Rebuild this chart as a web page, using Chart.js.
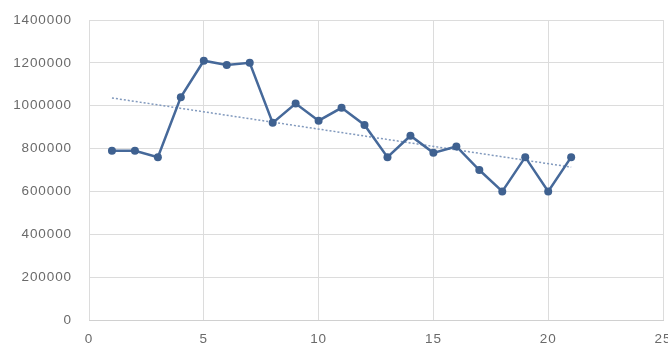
<!DOCTYPE html>
<html>
<head>
<meta charset="utf-8">
<script src="https://cdn.jsdelivr.net/npm/chart.js@4/dist/chart.umd.min.js"></script>
<style>
  html, body { margin: 0; padding: 0; background: #ffffff; }
  #wrap { width: 668px; height: 349px; position: relative; }
</style>
</head>
<body>
<div id="wrap"><canvas id="c" width="668" height="349"></canvas></div>
<script>
// Period index and the measured value for each period
const periods = [1, 2, 3, 4, 5, 6, 7, 8, 9, 10, 11, 12, 13, 14, 15, 16, 17, 18, 19, 20, 21];
const values = [790000, 790000, 760000, 1040000, 1210000, 1190000, 1200000, 920000, 1010000, 930000,
                990000, 910000, 760000, 860000, 780000, 810000, 700000, 600000, 760000, 600000, 760000];

// Axis ranges and tick steps
const xTicks = [0, 5, 10, 15, 20, 25];
const yTicks = [0, 200000, 400000, 600000, 800000, 1000000, 1200000, 1400000];

// Least-squares linear trend through the series
function linearTrend(xs, ys) {
  const n = xs.length;
  const mx = xs.reduce((a, b) => a + b, 0) / n;
  const my = ys.reduce((a, b) => a + b, 0) / n;
  let sxy = 0, sxx = 0;
  for (let i = 0; i < n; i++) {
    sxy += (xs[i] - mx) * (ys[i] - my);
    sxx += (xs[i] - mx) * (xs[i] - mx);
  }
  const slope = sxy / sxx;
  const icpt = my - slope * mx;
  const x0 = xs[0], x1 = xs[n - 1];
  return [{ x: x0, y: icpt + slope * x0 }, { x: x1, y: icpt + slope * x1 }];
}

const points = periods.map((p, i) => ({ x: p, y: values[i] }));
const trend = linearTrend(periods, values);

const lineBlue = '#46699a';
const markerBlue = '#3f6190';
const trendBlue = '#8199bd';
const gridGray = '#dcdcdc';
const labelGray = '#6a6a6a';
const tickFont = { family: 'Liberation Sans', size: 13.5 };

// Slightly wider letter spacing for the axis labels
const spacedText = {
  id: 'spacedText',
  beforeDraw(chart) { chart.ctx.letterSpacing = '0.9px'; }
};

new Chart(document.getElementById('c'), {
  type: 'scatter',
  data: {
    datasets: [
      {
        label: 'Series',
        data: points,
        showLine: true,
        borderColor: lineBlue,
        backgroundColor: markerBlue,
        borderWidth: 2.5,
        pointRadius: 4,
        pointBorderWidth: 0,
        pointBackgroundColor: markerBlue,
        tension: 0,
        order: 1
      },
      {
        label: 'Trend',
        data: trend,
        showLine: true,
        borderColor: trendBlue,
        borderWidth: 1.5,
        borderDash: [2, 2],
        pointRadius: 0,
        tension: 0,
        order: 2
      }
    ]
  },
  plugins: [spacedText],
  options: {
    responsive: false,
    animation: false,
    layout: { padding: { top: 20, right: 5, left: 0, bottom: 0 } },
    plugins: {
      legend: { display: false },
      tooltip: { enabled: false }
    },
    scales: {
      x: {
        type: 'linear',
        min: xTicks[0],
        max: xTicks[xTicks.length - 1],
        afterBuildTicks: (axis) => { axis.ticks = xTicks.map(v => ({ value: v })); },
        afterFit: (axis) => { axis.height = 29; axis.paddingLeft = 0; axis.paddingRight = 0; },
        grid: { color: gridGray, lineWidth: 1, drawTicks: false },
        border: { color: '#d0d0d0' },
        ticks: { color: labelGray, font: tickFont, padding: 11 }
      },
      y: {
        min: yTicks[0],
        max: yTicks[yTicks.length - 1],
        afterBuildTicks: (axis) => { axis.ticks = yTicks.map(v => ({ value: v })); },
        afterFit: (axis) => { axis.width = 89; axis.paddingTop = 0; axis.paddingBottom = 0; },
        grid: { color: gridGray, lineWidth: 1, drawTicks: false },
        border: { display: false },
        ticks: {
          color: labelGray,
          font: tickFont,
          padding: 17,
          callback: (v) => String(v)
        }
      }
    }
  }
});
</script>
</body>
</html>
